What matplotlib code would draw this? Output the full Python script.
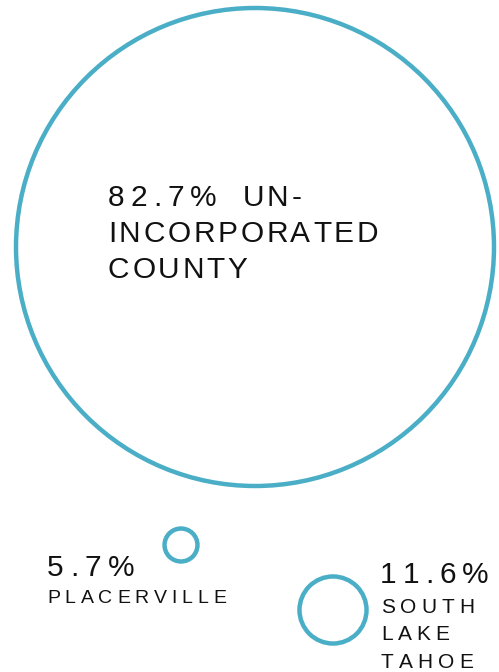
import matplotlib
matplotlib.use("Agg")
import matplotlib.pyplot as plt
from matplotlib.patches import Circle

# share of population by area
pcts = [82.7, 5.7, 11.6]
names = [["UN-", "INCORPORATED", "COUNTY"], ["PLACERVILLE"], ["SOUTH", "LAKE", "TAHOE"]]

teal = "#4aaec7"
ink = "#111111"

fig = plt.figure(figsize=(4.99, 6.72), dpi=100)
ax = fig.add_axes([0, 0, 1, 1])
ax.set_xlim(0, 499)
ax.set_ylim(672, 0)
ax.axis("off")

# radius is linear in the share
scale = 239 / pcts[0]
centers = [(255, 247), (181, 545), (333, 610)]
for p, c in zip(pcts, centers):
    ax.add_patch(Circle(c, p * scale, fill=False, ec=teal, lw=3.2))

renderer = fig.canvas.get_renderer()


def spaced(x, y, s, size, track):
    # draws one char at a time to get the wide letter spacing
    for ch in s:
        if ch == " ":
            x += size * 0.35 + track
            continue
        t = ax.text(x, y, ch, fontsize=size, family="Liberation Sans",
                    color=ink, va="baseline", ha="left")
        x += t.get_window_extent(renderer).width + track
    return x


def pct_text(p):
    return "%.1f%%" % p


# big circle
x = spaced(108, 206, pct_text(pcts[0]), 21.5, 6.0)
spaced(x + 20, 206, names[0][0], 21.5, 2.7)
spaced(108, 242, names[0][1], 21.5, 2.7)
spaced(108, 278, names[0][2], 21.5, 2.7)

# placerville
spaced(47, 576, pct_text(pcts[1]), 21.5, 6.5)
spaced(47, 603, names[1][0], 14, 4.8)

# south lake tahoe
spaced(380, 583, pct_text(pcts[2]), 21.5, 6.0)
for i, n in enumerate(names[2]):
    spaced(381, 613 + i * 27.5, n, 15, 5)

fig.savefig("out.png", dpi=100)
